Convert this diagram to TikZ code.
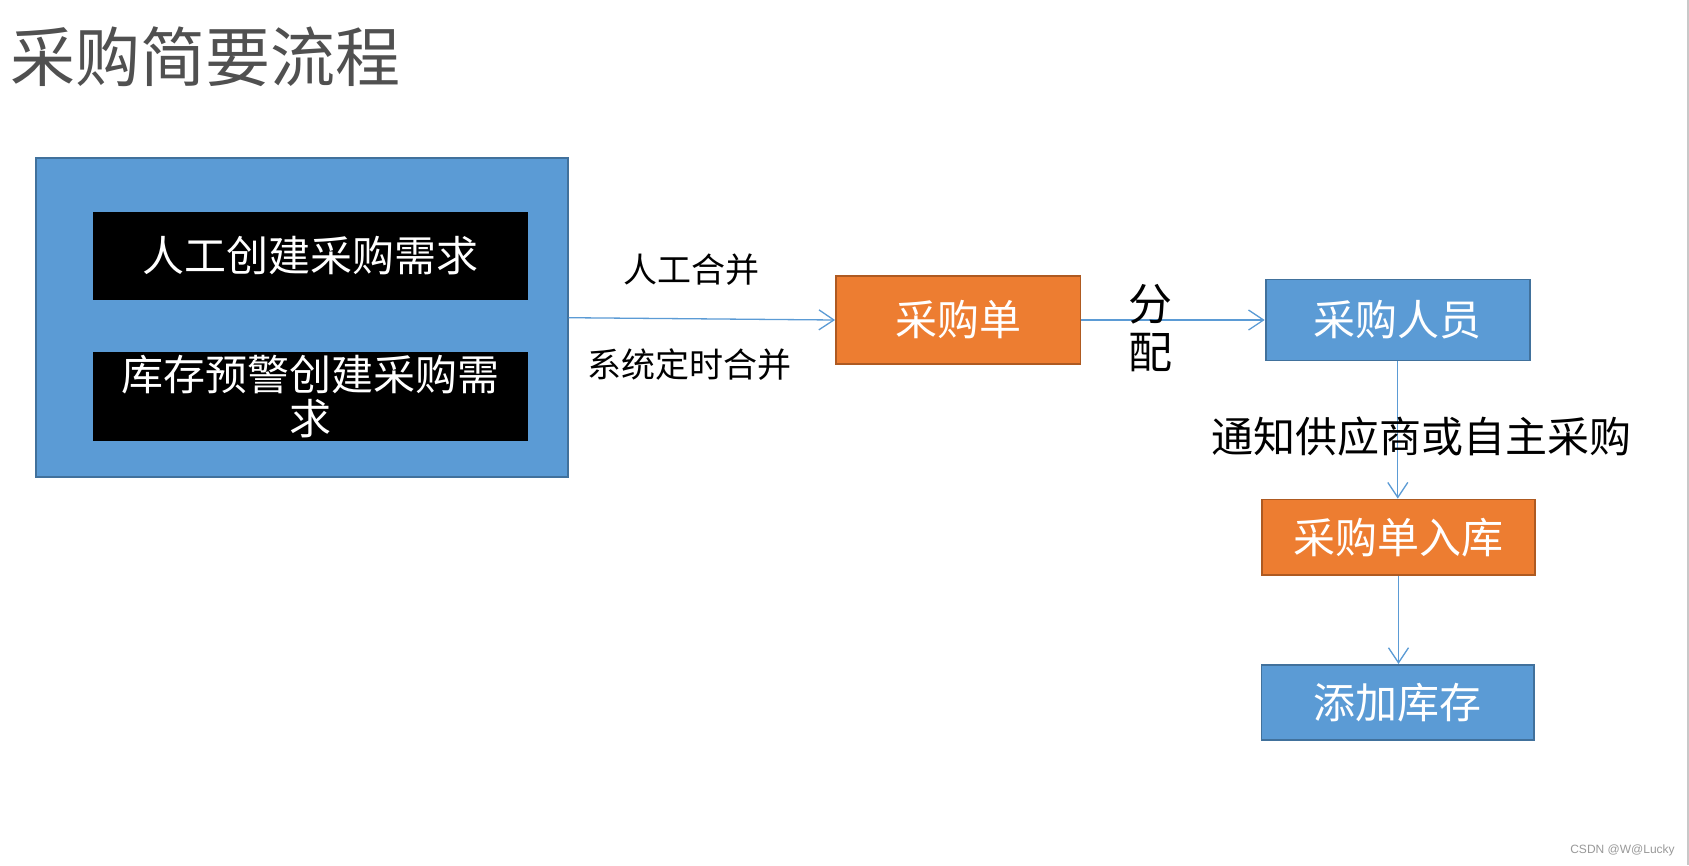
\documentclass[tikz,border=0pt]{standalone}
\usepackage{fontspec}
\newfontfamily\cjk{Noto Sans CJK SC}
\newfontfamily\wmfont{Liberation Sans}
\usetikzlibrary{arrows.meta}
\definecolor{boxblue}{HTML}{5B9BD5}
\definecolor{boxblueline}{HTML}{41719C}
\definecolor{boxorange}{HTML}{ED7D31}
\definecolor{boxorangeline}{HTML}{AE5A21}
\definecolor{titlegray}{HTML}{505050}
\definecolor{wmgray}{HTML}{999999}
\definecolor{edgegray}{HTML}{C8C8C8}
\begin{document}
\begin{tikzpicture}[x=1pt,y=-1pt,
  boxtext/.style={inner sep=0pt, text=white, font=\cjk\fontsize{42}{44}\selectfont},
  bluebox/.style={boxtext, draw=boxblueline, fill=boxblue, line width=1.8pt},
  orangebox/.style={boxtext, draw=boxorangeline, fill=boxorange, line width=1.8pt},
  blackbox/.style={boxtext, fill=black},
  lbl/.style={inner sep=0pt, text=black, font=\cjk\fontsize{34}{40}\selectfont},
  flow/.style={draw=boxblue, line width=1.3pt, -{Straight Barb[length=15pt,width=20pt]}}
]
\useasboundingbox (0,0) rectangle (1689,865);
\fill[white] (0,0) rectangle (1689,865);
\fill[edgegray] (1687,0) rectangle (1689,865);

\node[inner sep=0pt, font=\cjk\fontsize{65}{70}\selectfont, text=titlegray] (title) at (205,57) {采购简要流程};

\node[bluebox, minimum width=532pt, minimum height=319pt] (big) at (301.6,317.7) {};
\node[blackbox, minimum width=435pt, minimum height=87.3pt] (req1) at (310.2,255.9) {人工创建采购需求};
\node[blackbox, minimum width=435pt, minimum height=88.4pt, align=center] (req2) at (310.2,396.4) {库存预警创建采购需\\求};

\node[orangebox, minimum width=244.5pt, minimum height=88.2pt] (order) at (958.2,320) {采购单};
\node[bluebox, minimum width=264.4pt, minimum height=81pt] (staff) at (1397.8,320) {采购人员};
\node[orangebox, minimum width=273pt, minimum height=75.8pt] (stockin) at (1398.5,537.4) {采购单入库};
\node[bluebox, minimum width=272.5pt, minimum height=75.2pt] (addstock) at (1397.7,702.4) {添加库存};

\draw[flow] (big.east) -- (order.west);
\draw[flow] (order.east) -- (staff.west);
\draw[flow] (staff.south) -- (staff.south |- stockin.north);
\draw[flow] (stockin.south) -- (stockin.south |- addstock.north);

\node[lbl] (merge1) at (691.5,270) {人工合并};
\node[lbl] (merge2) at (689,365) {系统定时合并};
\node[lbl, font=\cjk\fontsize{44}{48}\selectfont, align=center] (assign) at (1150.5,328) {分\\配};
\node[lbl, font=\cjk\fontsize{42}{44}\selectfont] (notify) at (1421,437) {通知供应商或自主采购};

\node[inner sep=0pt, font=\wmfont\fontsize{12}{14}\selectfont, text=wmgray] (wm) at (1622.5,850) {CSDN @W@Lucky};
\end{tikzpicture}
\end{document}
